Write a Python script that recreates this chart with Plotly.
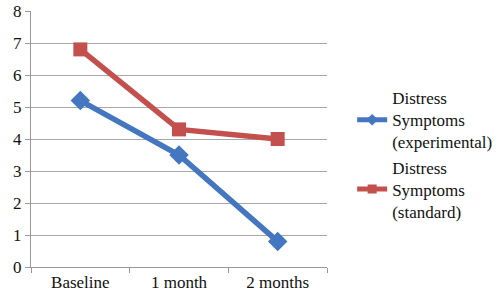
import plotly.graph_objects as go

categories = ["Baseline", "1 month", "2 months"]
experimental = [5.2, 3.5, 0.8]
standard = [6.8, 4.3, 4.0]
series_names = ["Distress<br>Symptoms<br>(experimental)", "Distress<br>Symptoms<br>(standard)"]

SERIF = "Times New Roman"
BLUE = "#4477C0"
RED = "#C4504D"

fig = go.Figure()
fig.add_trace(go.Scatter(x=categories, y=experimental, mode="lines+markers", showlegend=False,
                         line=dict(color=BLUE, width=5.5),
                         marker=dict(symbol="diamond", size=15, color=BLUE)))
fig.add_trace(go.Scatter(x=categories, y=standard, mode="lines+markers", showlegend=False,
                         line=dict(color=RED, width=5.5),
                         marker=dict(symbol="square", size=14, color=RED)))
# legend entries with smaller symbols
fig.add_trace(go.Scatter(x=[None], y=[None], name=series_names[0], mode="lines+markers",
                         line=dict(color=BLUE, width=5),
                         marker=dict(symbol="diamond", size=9, color=BLUE)))
fig.add_trace(go.Scatter(x=[None], y=[None], name=series_names[1], mode="lines+markers",
                         line=dict(color=RED, width=5),
                         marker=dict(symbol="square", size=9, color=RED)))

fig.update_layout(
    width=500, height=302,
    margin=dict(l=31, r=173, t=11, b=35, autoexpand=False),
    paper_bgcolor="white", plot_bgcolor="white",
    font=dict(family=SERIF, size=17, color="#111"),
    showlegend=True,
    legend=dict(x=1.085, y=0.73, xanchor="left", yanchor="top",
                font=dict(family=SERIF, size=17),
                tracegroupgap=6, itemwidth=30),
    xaxis=dict(type="category", range=[-0.5, 2.5], showgrid=False, automargin=False,
               showline=True, linecolor="#999", ticks="outside", tickson="boundaries",
               ticklen=5, tickcolor="#999", tickfont=dict(family=SERIF, size=17)),
    yaxis=dict(range=[0, 8], dtick=1, showgrid=True, gridcolor="#A8A8A8", gridwidth=1,
               showline=True, linecolor="#999", ticks="outside", ticklen=5, tickcolor="#999",
               automargin=False, zeroline=False, tickfont=dict(family=SERIF, size=17)),
)
fig.write_html("out.html", config={"displayModeBar": False},
               post_script="document.body.style.margin='0';")
